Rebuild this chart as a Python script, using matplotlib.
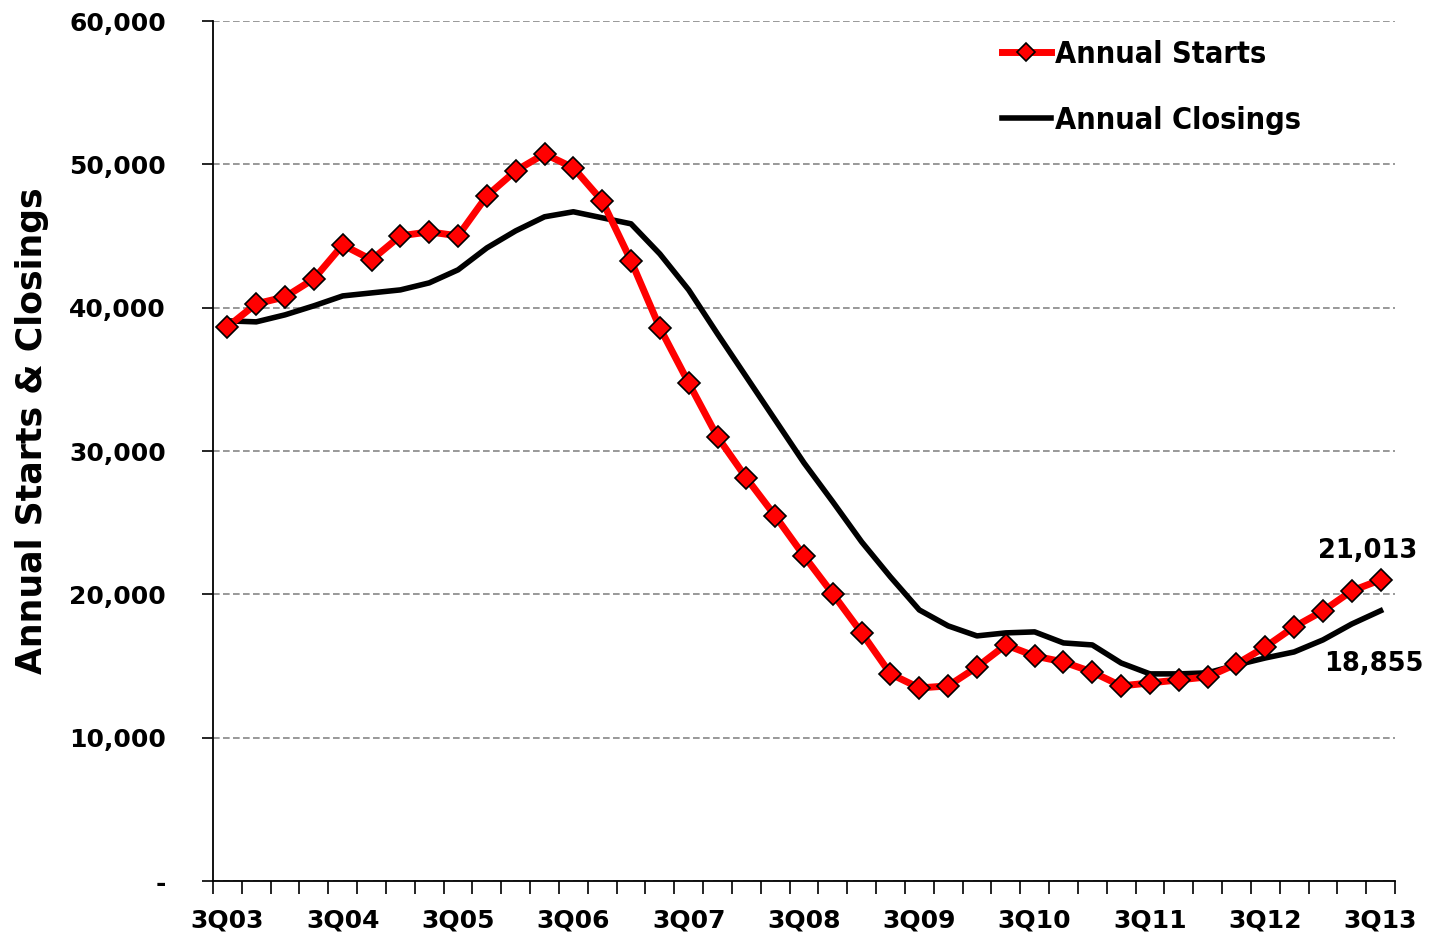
import numpy as np
import matplotlib.pyplot as plt
from matplotlib.ticker import FuncFormatter

# quarterly series, 3Q03 .. 3Q13
quarters = ["%dQ%02d" % (q, y) for y in range(3, 14) for q in (1, 2, 3, 4)][2:-1]

starts = [38660, 40270, 40750, 42010, 44380, 43340, 45010, 45290, 45010, 47800,
          49550, 50730, 49760, 47450, 43270, 38590, 34750, 30980, 28120, 25470,
          22680, 20030, 17310, 14450, 13470, 13610, 14930, 16470, 15700, 15280,
          14580, 13610, 13820, 14030, 14240, 15140, 16330, 17730, 18840, 20240,
          21013]

closings = [39080, 39010, 39500, 40130, 40820, 41030, 41240, 41730, 42640, 44170,
            45360, 46340, 46690, 46270, 45850, 43750, 41240, 38170, 35170, 32170,
            29170, 26450, 23660, 21210, 18910, 17800, 17100, 17310, 17380, 16610,
            16470, 15210, 14450, 14450, 14520, 15070, 15560, 15980, 16820, 17930,
            18855]

fig = plt.figure(figsize=(14.33, 9.41), dpi=100)
ax = fig.add_axes([213 / 1433, 1 - 881 / 941, (1395 - 213) / 1433, (881 - 21) / 941])

x = np.arange(len(quarters))

ax.plot(x, starts, color="#ff0000", lw=5, marker="D", markersize=11,
        markerfacecolor="#ff0000", markeredgecolor="black", markeredgewidth=1.2,
        label="Annual Starts", zorder=4)
ax.plot(x, closings, color="black", lw=4, label="Annual Closings", zorder=3)

ax.set_xlim(-0.5, len(quarters) - 0.5)
ax.set_ylim(0, 60000)
ax.set_yticks(range(0, 60001, 10000))
ax.yaxis.set_major_formatter(FuncFormatter(lambda v, p: "-" if v == 0 else f"{int(v):,}"))
ax.grid(axis="y", color="#888888", linestyle=(0, (4, 2)), lw=1.2)
ax.set_axisbelow(True)

ax.set_xticks(x[::4])
ax.set_xticklabels(quarters[::4])
ax.set_xticks(np.arange(-0.5, len(quarters)), minor=True)
ax.tick_params(axis="x", which="major", length=0, pad=20)
ax.tick_params(axis="x", which="minor", length=9, width=1.2, direction="out")
ax.tick_params(axis="y", length=8, width=1.2, direction="out", pad=26)

for lbl in ax.get_xticklabels() + ax.get_yticklabels():
    lbl.set_fontsize(18)
    lbl.set_fontweight("bold")

for s in ["top", "right"]:
    ax.spines[s].set_visible(False)
for s in ["left", "bottom"]:
    ax.spines[s].set_linewidth(1.3)

ax.set_ylabel("Annual Starts & Closings", fontsize=25, fontweight="bold")
ax.yaxis.set_label_coords(-0.139, 0.524)

ax.annotate(f"{starts[-1]:,}", xy=(x[-1], starts[-1]), xytext=(-9, 21),
            textcoords="offset points", ha="center", va="center",
            fontsize=18.5, fontweight="bold")
ax.annotate(f"{closings[-1]:,}", xy=(x[-1], closings[-1]), xytext=(-5, -38),
            textcoords="offset points", ha="center", va="center",
            fontsize=18.5, fontweight="bold")

leg = ax.legend(loc="upper left", bbox_to_anchor=(0.644, 1.01), frameon=False,
                handlelength=1.6, handletextpad=0.15, labelspacing=1.2,
                prop={"family": "DejaVu Sans", "stretch": "condensed",
                      "weight": "bold", "size": 22})
leg.legend_handles[0].set_markersize(9)

fig.savefig("out.png", dpi=100)
